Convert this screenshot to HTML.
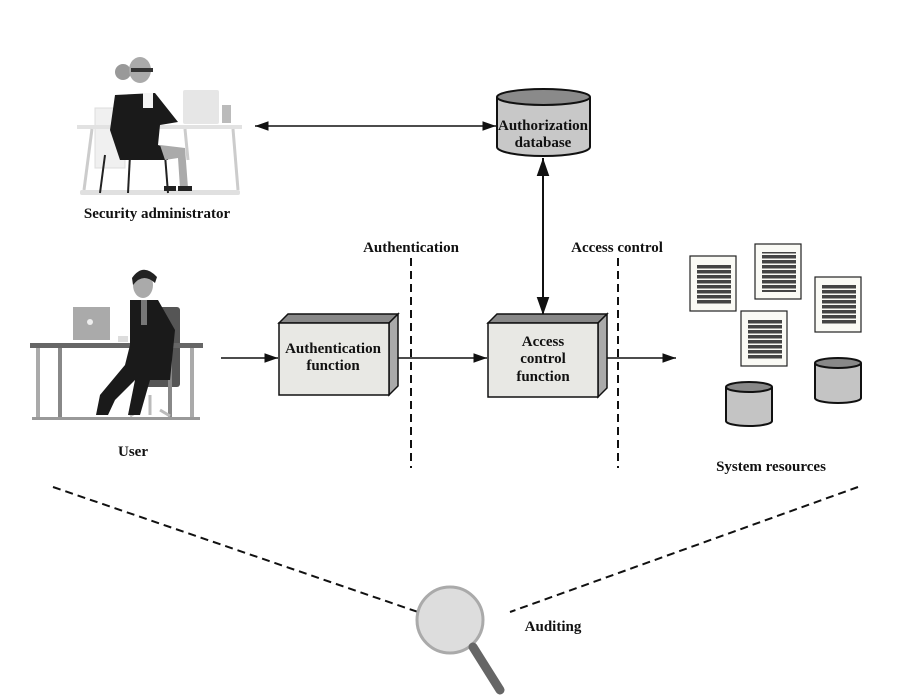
<!DOCTYPE html>
<html><head><style>body{margin:0;background:#fff}svg{display:block}text{font-family:"Liberation Serif",serif;font-weight:bold;fill:#111}</style></head><body>
<svg width="903" height="697" viewBox="0 0 903 697" xmlns="http://www.w3.org/2000/svg">
<defs><marker id="a" viewBox="0 0 10 10" refX="10" refY="5" markerWidth="9" markerHeight="9" orient="auto-start-reverse"><path d="M0,1.5L10,5L0,8.5z" fill="#111"/></marker>
<pattern id="st" width="34" height="5" patternUnits="userSpaceOnUse"><rect width="34" height="3.5" fill="#444"/></pattern></defs>
<!-- woman -->
<g>
<rect x="95" y="108" width="30" height="60" fill="#f0f0f0" stroke="#ddd"/>
<rect x="77" y="125" width="165" height="4" fill="#e2e2e2"/>
<line x1="92" y1="129" x2="84" y2="190" stroke="#ccc" stroke-width="3"/>
<line x1="233" y1="129" x2="238" y2="190" stroke="#ccc" stroke-width="3"/>
<line x1="185" y1="129" x2="188" y2="160" stroke="#ccc" stroke-width="3"/>
<rect x="80" y="190" width="160" height="5" rx="2" fill="#e0e0e0"/>
<line x1="105" y1="155" x2="100" y2="193" stroke="#222" stroke-width="2"/>
<line x1="130" y1="155" x2="128" y2="193" stroke="#222" stroke-width="2"/>
<line x1="165" y1="155" x2="168" y2="193" stroke="#222" stroke-width="2"/>
<rect x="183" y="90" width="36" height="34" rx="2" fill="#e6e6e6"/>
<rect x="222" y="105" width="9" height="18" fill="#bbb"/>
<circle cx="123" cy="72" r="8" fill="#999"/>
<ellipse cx="140" cy="70" rx="11" ry="13" fill="#aaa"/>
<rect x="131" y="68" width="22" height="4" fill="#333"/>
<path d="M115,95 L155,93 L178,122 L160,125 L158,145 L168,148 L168,160 L120,160 L110,130z" fill="#1a1a1a"/>
<rect x="143" y="93" width="10" height="15" fill="#f4f4f4"/>
<path d="M160,145 L185,148 L188,188 L180,188 L178,158 L165,160z" fill="#aaa"/>
<path d="M178,186 h14 v5 h-14z M164,186 h12 v5 h-12z" fill="#222"/>
</g>
<text x="157" y="218" font-size="15" text-anchor="middle">Security administrator</text>
<!-- man -->
<g>
<rect x="145" y="307" width="35" height="80" rx="3" fill="#555"/>
<rect x="30" y="343" width="173" height="5" fill="#666"/>
<line x1="38" y1="348" x2="38" y2="418" stroke="#aaa" stroke-width="4"/>
<line x1="60" y1="348" x2="60" y2="418" stroke="#888" stroke-width="4"/>
<line x1="192" y1="348" x2="192" y2="418" stroke="#aaa" stroke-width="4"/>
<line x1="170" y1="348" x2="170" y2="418" stroke="#888" stroke-width="4"/>
<rect x="32" y="417" width="168" height="3" fill="#999"/>
<path d="M140,410 l-10,6 M160,410 l10,6 M150,395 v20" stroke="#bbb" stroke-width="3"/>
<rect x="73" y="307" width="37" height="33" fill="#aaa"/>
<circle cx="90" cy="322" r="3" fill="#eee"/>
<ellipse cx="143" cy="285" rx="10" ry="13" fill="#aaa"/>
<path d="M132,278 Q143,262 157,277 L155,283 Q143,272 133,285z" fill="#222"/>
<path d="M130,300 L158,300 L175,330 L170,380 L135,380 L115,400 L108,415 L96,415 L100,395 L125,365 L130,345z" fill="#1a1a1a"/>
<path d="M135,380 L150,380 L140,415 L128,415z" fill="#1a1a1a"/>
<rect x="141" y="300" width="6" height="25" fill="#777"/>
<rect x="118" y="336" width="10" height="6" fill="#ddd"/>
</g>
<text x="133" y="456" font-size="15" text-anchor="middle">User</text>
<!-- DB -->
<path d="M497,97 V147 A46.5,9 0 0 0 590,147 V97" fill="#c8c8c8" stroke="#111" stroke-width="2"/>
<ellipse cx="543.5" cy="97" rx="46.5" ry="8" fill="#8a8a8a" stroke="#111" stroke-width="2"/>
<text x="543" y="130" font-size="15" text-anchor="middle">Authorization</text>
<text x="543" y="147" font-size="15" text-anchor="middle">database</text>
<line x1="255" y1="126" x2="496" y2="126" stroke="#111" stroke-width="1.5" marker-start="url(#a)" marker-end="url(#a)"/>
<line x1="543" y1="158" x2="543" y2="315" stroke="#111" stroke-width="2" marker-start="url(#a)" marker-end="url(#a)"/>
<!-- boxes -->
<g stroke="#111" stroke-width="1.5">
<path d="M279,323 l9,-9 h110 l-9,9z" fill="#888"/>
<path d="M389,323 l9,-9 v72 l-9,9z" fill="#aaa"/>
<rect x="279" y="323" width="110" height="72" fill="#e8e8e4"/>
<path d="M488,323 l9,-9 h110 l-9,9z" fill="#888"/>
<path d="M598,323 l9,-9 v74 l-9,9z" fill="#aaa"/>
<rect x="488" y="323" width="110" height="74" fill="#e8e8e4"/>
</g>
<text x="333" y="353" font-size="15" text-anchor="middle">Authentication</text>
<text x="333" y="370" font-size="15" text-anchor="middle">function</text>
<text x="543" y="346" font-size="15" text-anchor="middle">Access</text>
<text x="543" y="363" font-size="15" text-anchor="middle">control</text>
<text x="543" y="381" font-size="15" text-anchor="middle">function</text>
<g stroke="#111" stroke-width="1.5">
<line x1="221" y1="358" x2="278" y2="358" marker-end="url(#a)"/>
<line x1="398" y1="358" x2="487" y2="358" marker-end="url(#a)"/>
<line x1="607" y1="358" x2="676" y2="358" marker-end="url(#a)"/>
</g>
<g stroke="#111" stroke-width="2" stroke-dasharray="8,5">
<line x1="411" y1="258" x2="411" y2="468"/>
<line x1="618" y1="258" x2="618" y2="468"/>
<line x1="53" y1="487" x2="418" y2="612"/>
<line x1="858" y1="487" x2="510" y2="612"/>
</g>
<text x="411" y="252" font-size="15" text-anchor="middle">Authentication</text>
<text x="617" y="252" font-size="15" text-anchor="middle">Access control</text>
<!-- resources -->
<g fill="#fafaf5" stroke="#222" stroke-width="1.2">
<rect x="690" y="256" width="46" height="55"/>
<rect x="755" y="244" width="46" height="55"/>
<rect x="815" y="277" width="46" height="55"/>
<rect x="741" y="311" width="46" height="55"/>
</g>
<g fill="url(#st)">
<rect x="697" y="264" width="34" height="40"/>
<rect x="762" y="252" width="34" height="40"/>
<rect x="822" y="285" width="34" height="40"/>
<rect x="748" y="319" width="34" height="40"/>
</g>
<g stroke="#111" stroke-width="2" fill="#c4c4c4">
<path d="M726,387 V421 A23,5 0 0 0 772,421 V387"/>
<ellipse cx="749" cy="387" rx="23" ry="5" fill="#888"/>
<path d="M815,363 V398 A23,5 0 0 0 861,398 V363"/>
<ellipse cx="838" cy="363" rx="23" ry="5" fill="#888"/>
</g>
<text x="771" y="471" font-size="15" text-anchor="middle">System resources</text>
<!-- magnifier -->
<circle cx="450" cy="620" r="33" fill="#ddd" stroke="#aaa" stroke-width="3"/>
<line x1="473" y1="647" x2="500" y2="690" stroke="#666" stroke-width="9" stroke-linecap="round"/>
<text x="553" y="631" font-size="15" text-anchor="middle">Auditing</text>
</svg>
</body></html>
